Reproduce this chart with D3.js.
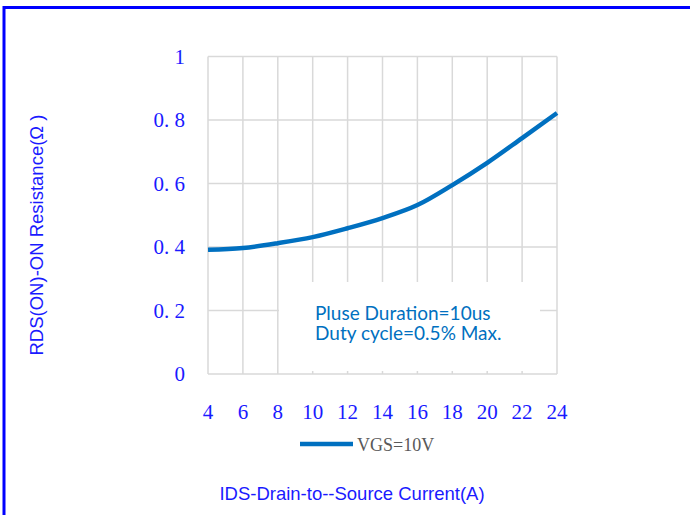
<!DOCTYPE html>
<html>
<head>
<meta charset="utf-8">
<script src="https://cdn.jsdelivr.net/npm/d3@7"></script>
<style>
  body { margin: 0; background: #fff; }
  svg { display: block; }
</style>
</head>
<body>
<div id="chart"></div>
<script>
// data
const current = [4, 6, 8, 10, 12, 14, 16, 18, 20, 22, 24];
const resistance = [0.391, 0.397, 0.412, 0.431, 0.459, 0.491, 0.532, 0.595, 0.665, 0.743, 0.822];
const xTicks = [4, 6, 8, 10, 12, 14, 16, 18, 20, 22, 24];
const yTicks = [0, 0.2, 0.4, 0.6, 0.8, 1];
const seriesName = "VGS=10V";
const noteLines = ["Pluse Duration=10us", "Duty cycle=0.5% Max."];

const width = 690, height = 515;
const plot = {left: 208, right: 557, top: 56.5, bottom: 374};

const svg = d3.select("#chart").append("svg")
  .attr("width", width)
  .attr("height", height);

// blue frame (only top and left visible)
svg.append("rect")
  .attr("x", 4).attr("y", 7.5)
  .attr("width", 800).attr("height", 600)
  .attr("fill", "none")
  .attr("stroke", "#0000ff")
  .attr("stroke-width", 3);

const x = d3.scaleLinear().domain([4, 24]).range([plot.left, plot.right]);
const y = d3.scaleLinear().domain([0, 1]).range([plot.bottom, plot.top]);

// grid
const grid = svg.append("g").attr("stroke", "#d9d9d9").attr("stroke-width", 1.5);
grid.selectAll("line.v").data(xTicks).enter().append("line")
  .attr("x1", d => x(d)).attr("x2", d => x(d))
  .attr("y1", y(1)).attr("y2", y(0));
grid.selectAll("line.h").data(yTicks).enter().append("line")
  .attr("x1", x(4)).attr("x2", x(24))
  .attr("y1", d => y(d)).attr("y2", d => y(d));

// white box behind the note
svg.append("rect")
  .attr("x", 279).attr("y", 282)
  .attr("width", 261).attr("height", 89)
  .attr("fill", "#fff");

// y tick labels
svg.append("g").selectAll("text").data(yTicks).enter().append("text")
  .attr("x", 185)
  .attr("y", d => y(d) + 7)
  .attr("text-anchor", "end")
  .attr("fill", "#1a1aff")
  .style("font-family", "'Liberation Serif', serif")
  .style("font-size", "21px")
  .text(d => (d === 0 || d === 1) ? d : d3.format(".1f")(d).replace(".", ". "));

// x tick labels
svg.append("g").selectAll("text").data(xTicks).enter().append("text")
  .attr("x", d => x(d))
  .attr("y", 419)
  .attr("text-anchor", "middle")
  .attr("fill", "#1a1aff")
  .style("font-family", "'Liberation Serif', serif")
  .style("font-size", "21px")
  .text(d => d);

// curve
const line = d3.line()
  .x((d, i) => x(current[i]))
  .y(d => y(d))
  .curve(d3.curveMonotoneX);

svg.append("path")
  .datum(resistance)
  .attr("d", line)
  .attr("fill", "none")
  .attr("stroke", "#0070c0")
  .attr("stroke-width", 4.5);

// note
svg.append("g").selectAll("text").data(noteLines).enter().append("text")
  .attr("x", 315)
  .attr("y", (d, i) => 320 + i * 20)
  .attr("fill", "#0070c0")
  .style("font-family", "Lato, sans-serif")
  .style("font-size", "19px")
  .text(d => d);

// legend
svg.append("line")
  .attr("x1", 300).attr("x2", 353)
  .attr("y1", 444).attr("y2", 444)
  .attr("stroke", "#0070c0")
  .attr("stroke-width", 4.5);
svg.append("text")
  .attr("x", 357).attr("y", 451)
  .attr("fill", "#595959")
  .style("font-family", "'Liberation Serif', serif")
  .style("font-size", "18px")
  .text(seriesName);

// axis titles
svg.append("text")
  .attr("transform", "translate(43,235) rotate(-90)")
  .attr("text-anchor", "middle")
  .attr("fill", "#1a1aff")
  .style("font-family", "'Liberation Sans', Arial, sans-serif")
  .style("font-size", "18.5px")
  .text("RDS(ON)-ON Resistance(Ω )");

svg.append("text")
  .attr("x", 352).attr("y", 500)
  .attr("text-anchor", "middle")
  .attr("fill", "#1a1aff")
  .style("font-family", "'Liberation Sans', Arial, sans-serif")
  .style("font-size", "18.5px")
  .text("IDS-Drain-to--Source Current(A)");
</script>
</body>
</html>
